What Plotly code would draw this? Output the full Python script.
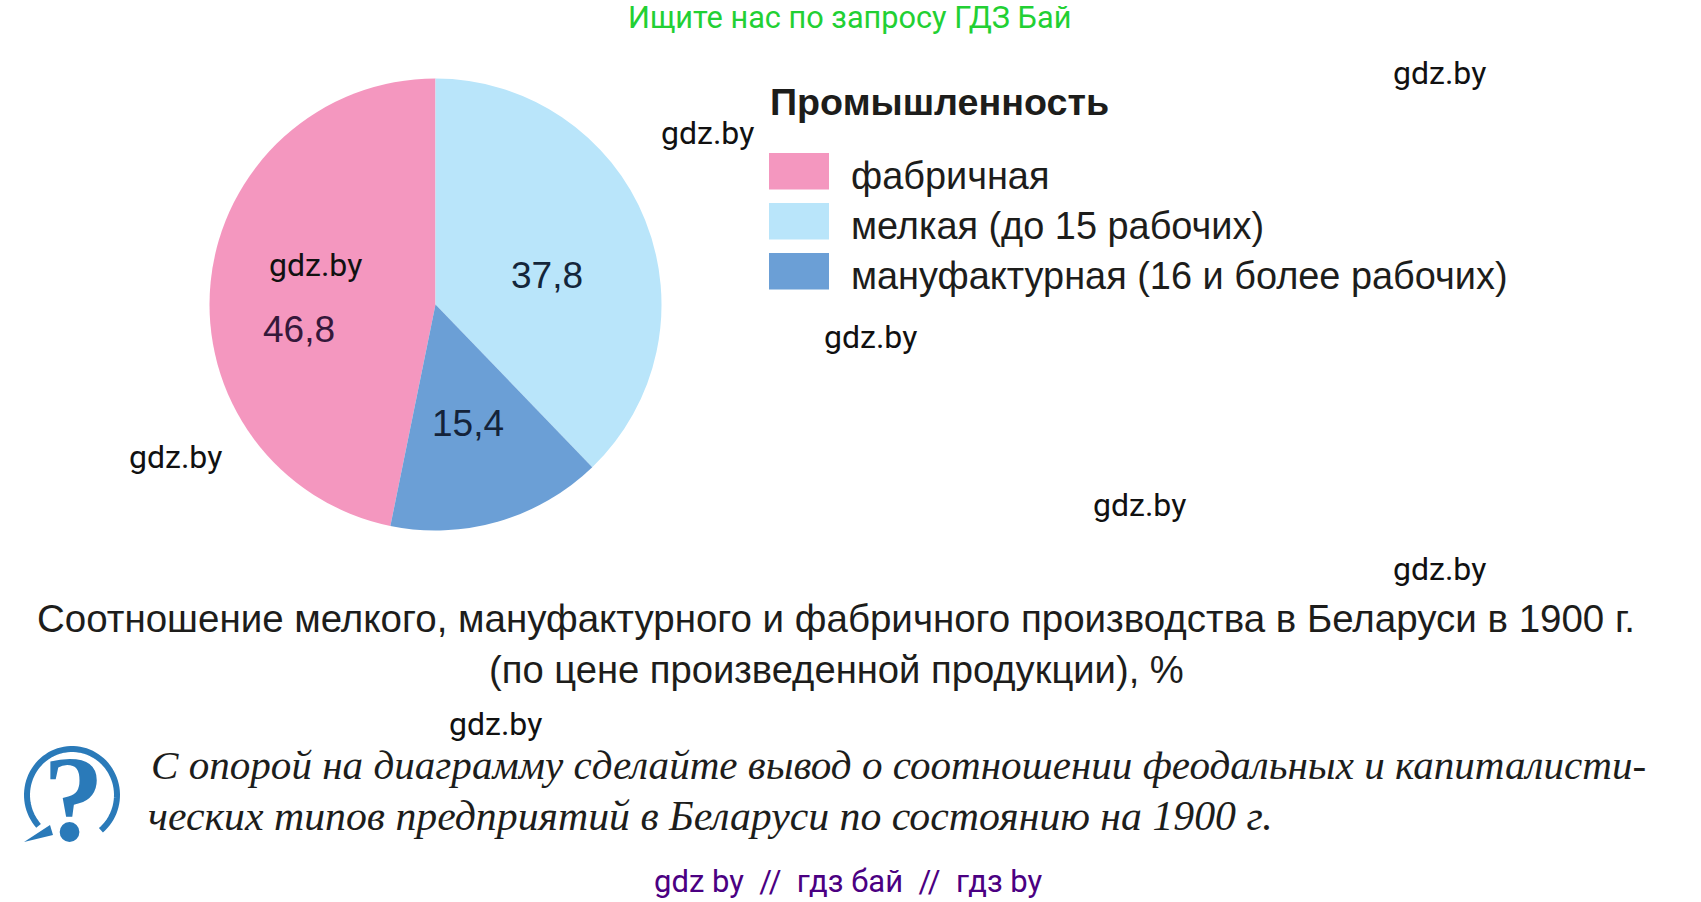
import numpy as np
import plotly.graph_objects as go

W, H = 1701, 902

# Data
categories = ["фабричная", "мелкая (до 15 рабочих)", "мануфактурная (16 и более рабочих)"]
values = [46.8, 37.8, 15.4]
colors = ["#F497BF", "#B9E5FA", "#6B9FD6"]
label_colors = ["#35183A", "#14263A", "#14233A"]
label_positions = [(299, 329), (547, 275), (468, 423)]
legend_title = "Промышленность"
caption_lines = [
    "Соотношение мелкого, мануфактурного и фабричного производства в Беларуси в 1900 г.",
    "(по цене произведенной продукции), %",
]
question_lines = [
    "С опорой на диаграмму сделайте вывод о соотношении феодальных и капиталисти-",
    "ческих типов предприятий в Беларуси по состоянию на 1900 г.",
]
watermark_positions = [(1439, 73), (707, 133), (315, 265), (871, 337), (175.5, 457),
                       (1139, 505), (1439, 569), (495.5, 724)]
top_text = "Ищите нас по запросу ГДЗ Бай"
bottom_text = "gdz by\u00a0\u00a0//\u00a0\u00a0гдз бай\u00a0\u00a0//\u00a0\u00a0гдз by"


def px(x):
    return x / W


def py(y):
    return 1 - y / H


def note(text, x, y, size, color="#1d1d1b", family="Liberation Sans", anchor="center"):
    return dict(text=text, x=px(x), y=py(y), xref="paper", yref="paper", showarrow=False,
                xanchor=anchor, yanchor="middle", font=dict(size=size, color=color, family=family))


cx, cy, R = 435.5, 304.5, 226
rotation = 360 - values[0] / sum(values) * 360
fig = go.Figure(go.Pie(
    labels=categories, values=values, sort=False, direction="clockwise", rotation=rotation,
    marker=dict(colors=colors, line=dict(width=0)), textinfo="none", hoverinfo="label+value",
    domain=dict(x=[px(cx - R), px(cx + R)], y=[py(cy + R), py(cy - R)]), showlegend=False,
))

annotations = [note(top_text, 849, 18, 30.7, "#22D033", "Roboto")]
annotations += [note("gdz.by", x, y, 32, "#111111", "Roboto") for x, y in watermark_positions]
annotations.append(note(f"<b>{legend_title}</b>", 768, 102, 37.7, anchor="left"))

shapes = []
for i, (name, col) in enumerate(zip(categories, colors)):
    top = 153 + 50 * i
    shapes.append(dict(type="rect", xref="paper", yref="paper", x0=px(769), x1=px(829),
                       y0=py(top), y1=py(top + 36.5), fillcolor=col, line_width=0))
    annotations.append(note(name, 849, 176 + 50 * i, 37.9, anchor="left"))

for v, (x, y), col in zip(values, label_positions, label_colors):
    annotations.append(note(f"{v}".replace(".", ","), x, y, 37, col))

annotations.append(note(caption_lines[0], 836, 618, 38.5))
annotations.append(note(caption_lines[1], 836, 669, 38.2))
annotations.append(note(f"<i>{question_lines[0]}</i>", 149, 765, 41.1, "#1d1d1b", "Liberation Serif", "left"))
annotations.append(note(f"<i>{question_lines[1]}</i>", 146, 816, 41.8, "#1d1d1b", "Liberation Serif", "left"))
annotations.append(note(bottom_text, 848, 881.5, 31, "#4B0082", "Roboto"))

# Question icon
BLUE = "#2A7AB9"
t = np.radians(np.linspace(-50, 222, 70))
ring_x, ring_y = 72 + 45 * np.cos(t), 795 - 46 * np.sin(t)
ring_path = "M" + " L".join(f"{px(a):.5f},{py(b):.5f}" for a, b in zip(ring_x, ring_y))
shapes.append(dict(type="path", xref="paper", yref="paper", path=ring_path,
                   line=dict(color=BLUE, width=6)))
shapes.append(dict(type="path", xref="paper", yref="paper",
                   path=f"M{px(24)},{py(842)} L{px(50)},{py(825)} L{px(53)},{py(835)} Z",
                   fillcolor=BLUE, line_width=0))
annotations.append(note("<b>?</b>", 73, 798, 122, BLUE, "Liberation Serif"))

fig.update_layout(
    width=W, height=H, margin=dict(l=0, r=0, t=0, b=0, pad=0),
    paper_bgcolor="white", plot_bgcolor="white",
    annotations=annotations, shapes=shapes,
)
fig.write_html("out.html", config={"displayModeBar": False},
               post_script="document.body.style.margin='0';document.body.style.overflow='hidden';")
